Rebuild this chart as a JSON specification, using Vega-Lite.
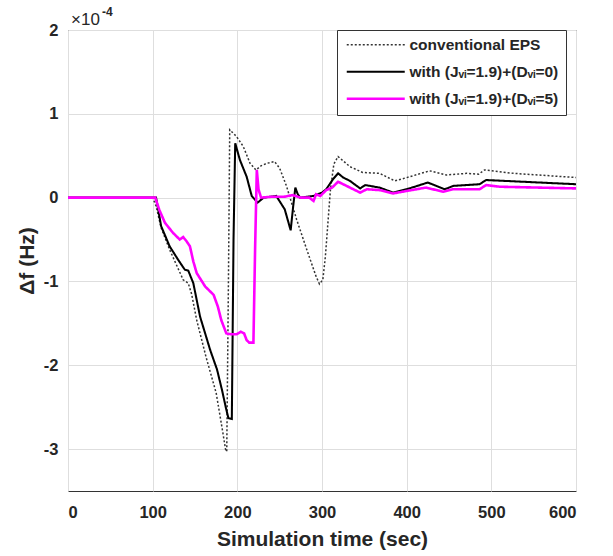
{
  "$schema": "https://vega.github.io/schema/vega-lite/v6.json",
  "width": 508,
  "height": 461,
  "autosize": {"type": "none"},
  "padding": {"left": 68, "top": 30, "right": 37, "bottom": 65},
  "background": "white",
  "config": {
    "view": {"stroke": "#333333", "strokeWidth": 1},
    "font": "Liberation Sans",
    "axis": {
      "domain": false,
      "ticks": false,
      "gridColor": "#dedede",
      "gridWidth": 1,
      "labelFont": "Liberation Sans",
      "labelFontWeight": "bold",
      "labelFontSize": 16.5,
      "labelColor": "#262626",
      "titleFont": "Liberation Sans",
      "titleFontWeight": "bold",
      "titleFontSize": 21,
      "titleColor": "#262626"
    }
  },
  "datasets": {
    "curves": [
      {"series": "conventional EPS", "t": 0, "v": 0},
      {"series": "conventional EPS", "t": 100, "v": 0},
      {"series": "conventional EPS", "t": 104, "v": -0.1},
      {"series": "conventional EPS", "t": 110, "v": -0.36},
      {"series": "conventional EPS", "t": 120, "v": -0.62},
      {"series": "conventional EPS", "t": 128, "v": -0.8},
      {"series": "conventional EPS", "t": 136, "v": -0.98},
      {"series": "conventional EPS", "t": 142, "v": -1.02},
      {"series": "conventional EPS", "t": 146, "v": -1.15},
      {"series": "conventional EPS", "t": 152, "v": -1.46},
      {"series": "conventional EPS", "t": 163, "v": -1.9},
      {"series": "conventional EPS", "t": 175, "v": -2.33},
      {"series": "conventional EPS", "t": 183, "v": -2.81},
      {"series": "conventional EPS", "t": 186, "v": -3.0},
      {"series": "conventional EPS", "t": 187.5, "v": -3.03},
      {"series": "conventional EPS", "t": 189.5, "v": -1.0},
      {"series": "conventional EPS", "t": 191, "v": 0.81},
      {"series": "conventional EPS", "t": 199, "v": 0.73},
      {"series": "conventional EPS", "t": 207, "v": 0.61},
      {"series": "conventional EPS", "t": 215, "v": 0.41},
      {"series": "conventional EPS", "t": 222, "v": 0.33},
      {"series": "conventional EPS", "t": 228, "v": 0.38},
      {"series": "conventional EPS", "t": 235, "v": 0.41},
      {"series": "conventional EPS", "t": 244, "v": 0.43},
      {"series": "conventional EPS", "t": 250, "v": 0.35},
      {"series": "conventional EPS", "t": 258, "v": 0.14},
      {"series": "conventional EPS", "t": 270, "v": -0.26},
      {"series": "conventional EPS", "t": 282, "v": -0.62},
      {"series": "conventional EPS", "t": 293, "v": -0.94},
      {"series": "conventional EPS", "t": 297, "v": -1.03},
      {"series": "conventional EPS", "t": 301, "v": -0.98},
      {"series": "conventional EPS", "t": 304, "v": -0.7},
      {"series": "conventional EPS", "t": 310, "v": 0.1},
      {"series": "conventional EPS", "t": 314, "v": 0.4},
      {"series": "conventional EPS", "t": 319, "v": 0.49},
      {"series": "conventional EPS", "t": 333, "v": 0.37},
      {"series": "conventional EPS", "t": 348, "v": 0.3},
      {"series": "conventional EPS", "t": 368, "v": 0.29},
      {"series": "conventional EPS", "t": 386, "v": 0.2},
      {"series": "conventional EPS", "t": 404, "v": 0.25},
      {"series": "conventional EPS", "t": 427, "v": 0.32},
      {"series": "conventional EPS", "t": 447, "v": 0.27},
      {"series": "conventional EPS", "t": 471, "v": 0.29},
      {"series": "conventional EPS", "t": 485, "v": 0.28},
      {"series": "conventional EPS", "t": 492, "v": 0.33},
      {"series": "conventional EPS", "t": 526, "v": 0.29},
      {"series": "conventional EPS", "t": 600, "v": 0.24},

      {"series": "with (Jᵥᵢ=1.9)+(Dᵥᵢ=0)", "t": 0, "v": 0},
      {"series": "with (Jᵥᵢ=1.9)+(Dᵥᵢ=0)", "t": 104, "v": 0},
      {"series": "with (Jᵥᵢ=1.9)+(Dᵥᵢ=0)", "t": 110, "v": -0.34},
      {"series": "with (Jᵥᵢ=1.9)+(Dᵥᵢ=0)", "t": 120, "v": -0.58},
      {"series": "with (Jᵥᵢ=1.9)+(Dᵥᵢ=0)", "t": 130, "v": -0.74},
      {"series": "with (Jᵥᵢ=1.9)+(Dᵥᵢ=0)", "t": 136, "v": -0.83},
      {"series": "with (Jᵥᵢ=1.9)+(Dᵥᵢ=0)", "t": 138, "v": -0.86},
      {"series": "with (Jᵥᵢ=1.9)+(Dᵥᵢ=0)", "t": 142, "v": -0.87},
      {"series": "with (Jᵥᵢ=1.9)+(Dᵥᵢ=0)", "t": 148, "v": -1.02},
      {"series": "with (Jᵥᵢ=1.9)+(Dᵥᵢ=0)", "t": 156, "v": -1.42},
      {"series": "with (Jᵥᵢ=1.9)+(Dᵥᵢ=0)", "t": 168, "v": -1.82},
      {"series": "with (Jᵥᵢ=1.9)+(Dᵥᵢ=0)", "t": 176, "v": -2.05},
      {"series": "with (Jᵥᵢ=1.9)+(Dᵥᵢ=0)", "t": 182, "v": -2.3},
      {"series": "with (Jᵥᵢ=1.9)+(Dᵥᵢ=0)", "t": 187, "v": -2.53},
      {"series": "with (Jᵥᵢ=1.9)+(Dᵥᵢ=0)", "t": 189.5, "v": -2.63},
      {"series": "with (Jᵥᵢ=1.9)+(Dᵥᵢ=0)", "t": 193.5, "v": -2.64},
      {"series": "with (Jᵥᵢ=1.9)+(Dᵥᵢ=0)", "t": 195.5, "v": -0.5},
      {"series": "with (Jᵥᵢ=1.9)+(Dᵥᵢ=0)", "t": 197.5, "v": 0.65},
      {"series": "with (Jᵥᵢ=1.9)+(Dᵥᵢ=0)", "t": 203, "v": 0.45},
      {"series": "with (Jᵥᵢ=1.9)+(Dᵥᵢ=0)", "t": 211, "v": 0.25},
      {"series": "with (Jᵥᵢ=1.9)+(Dᵥᵢ=0)", "t": 217, "v": 0.02},
      {"series": "with (Jᵥᵢ=1.9)+(Dᵥᵢ=0)", "t": 224, "v": -0.06},
      {"series": "with (Jᵥᵢ=1.9)+(Dᵥᵢ=0)", "t": 231, "v": 0},
      {"series": "with (Jᵥᵢ=1.9)+(Dᵥᵢ=0)", "t": 246, "v": 0.02},
      {"series": "with (Jᵥᵢ=1.9)+(Dᵥᵢ=0)", "t": 256, "v": -0.14},
      {"series": "with (Jᵥᵢ=1.9)+(Dᵥᵢ=0)", "t": 263, "v": -0.39},
      {"series": "with (Jᵥᵢ=1.9)+(Dᵥᵢ=0)", "t": 266, "v": -0.1},
      {"series": "with (Jᵥᵢ=1.9)+(Dᵥᵢ=0)", "t": 268.5, "v": 0.12},
      {"series": "with (Jᵥᵢ=1.9)+(Dᵥᵢ=0)", "t": 271, "v": 0.05},
      {"series": "with (Jᵥᵢ=1.9)+(Dᵥᵢ=0)", "t": 274, "v": 0},
      {"series": "with (Jᵥᵢ=1.9)+(Dᵥᵢ=0)", "t": 290, "v": 0.02},
      {"series": "with (Jᵥᵢ=1.9)+(Dᵥᵢ=0)", "t": 300, "v": 0.06},
      {"series": "with (Jᵥᵢ=1.9)+(Dᵥᵢ=0)", "t": 305, "v": 0.1},
      {"series": "with (Jᵥᵢ=1.9)+(Dᵥᵢ=0)", "t": 313, "v": 0.22},
      {"series": "with (Jᵥᵢ=1.9)+(Dᵥᵢ=0)", "t": 319, "v": 0.29},
      {"series": "with (Jᵥᵢ=1.9)+(Dᵥᵢ=0)", "t": 325, "v": 0.24},
      {"series": "with (Jᵥᵢ=1.9)+(Dᵥᵢ=0)", "t": 333, "v": 0.2},
      {"series": "with (Jᵥᵢ=1.9)+(Dᵥᵢ=0)", "t": 345, "v": 0.11},
      {"series": "with (Jᵥᵢ=1.9)+(Dᵥᵢ=0)", "t": 351, "v": 0.15},
      {"series": "with (Jᵥᵢ=1.9)+(Dᵥᵢ=0)", "t": 368, "v": 0.12},
      {"series": "with (Jᵥᵢ=1.9)+(Dᵥᵢ=0)", "t": 384, "v": 0.06},
      {"series": "with (Jᵥᵢ=1.9)+(Dᵥᵢ=0)", "t": 400, "v": 0.1},
      {"series": "with (Jᵥᵢ=1.9)+(Dᵥᵢ=0)", "t": 425, "v": 0.18},
      {"series": "with (Jᵥᵢ=1.9)+(Dᵥᵢ=0)", "t": 445, "v": 0.1},
      {"series": "with (Jᵥᵢ=1.9)+(Dᵥᵢ=0)", "t": 455, "v": 0.14},
      {"series": "with (Jᵥᵢ=1.9)+(Dᵥᵢ=0)", "t": 486, "v": 0.16},
      {"series": "with (Jᵥᵢ=1.9)+(Dᵥᵢ=0)", "t": 494, "v": 0.21},
      {"series": "with (Jᵥᵢ=1.9)+(Dᵥᵢ=0)", "t": 600, "v": 0.16},

      {"series": "with (Jᵥᵢ=1.9)+(Dᵥᵢ=5)", "t": 0, "v": 0},
      {"series": "with (Jᵥᵢ=1.9)+(Dᵥᵢ=5)", "t": 103, "v": 0},
      {"series": "with (Jᵥᵢ=1.9)+(Dᵥᵢ=5)", "t": 108, "v": -0.15},
      {"series": "with (Jᵥᵢ=1.9)+(Dᵥᵢ=5)", "t": 114.5, "v": -0.3},
      {"series": "with (Jᵥᵢ=1.9)+(Dᵥᵢ=5)", "t": 124, "v": -0.42},
      {"series": "with (Jᵥᵢ=1.9)+(Dᵥᵢ=5)", "t": 132, "v": -0.5},
      {"series": "with (Jᵥᵢ=1.9)+(Dᵥᵢ=5)", "t": 136, "v": -0.47},
      {"series": "with (Jᵥᵢ=1.9)+(Dᵥᵢ=5)", "t": 140, "v": -0.52},
      {"series": "with (Jᵥᵢ=1.9)+(Dᵥᵢ=5)", "t": 144, "v": -0.58},
      {"series": "with (Jᵥᵢ=1.9)+(Dᵥᵢ=5)", "t": 148, "v": -0.76},
      {"series": "with (Jᵥᵢ=1.9)+(Dᵥᵢ=5)", "t": 152, "v": -0.9},
      {"series": "with (Jᵥᵢ=1.9)+(Dᵥᵢ=5)", "t": 162, "v": -1.06},
      {"series": "with (Jᵥᵢ=1.9)+(Dᵥᵢ=5)", "t": 168, "v": -1.12},
      {"series": "with (Jᵥᵢ=1.9)+(Dᵥᵢ=5)", "t": 172, "v": -1.16},
      {"series": "with (Jᵥᵢ=1.9)+(Dᵥᵢ=5)", "t": 177, "v": -1.3},
      {"series": "with (Jᵥᵢ=1.9)+(Dᵥᵢ=5)", "t": 181, "v": -1.46},
      {"series": "with (Jᵥᵢ=1.9)+(Dᵥᵢ=5)", "t": 187, "v": -1.62},
      {"series": "with (Jᵥᵢ=1.9)+(Dᵥᵢ=5)", "t": 193, "v": -1.63},
      {"series": "with (Jᵥᵢ=1.9)+(Dᵥᵢ=5)", "t": 199, "v": -1.63},
      {"series": "with (Jᵥᵢ=1.9)+(Dᵥᵢ=5)", "t": 204, "v": -1.6},
      {"series": "with (Jᵥᵢ=1.9)+(Dᵥᵢ=5)", "t": 208, "v": -1.62},
      {"series": "with (Jᵥᵢ=1.9)+(Dᵥᵢ=5)", "t": 211, "v": -1.7},
      {"series": "with (Jᵥᵢ=1.9)+(Dᵥᵢ=5)", "t": 214, "v": -1.73},
      {"series": "with (Jᵥᵢ=1.9)+(Dᵥᵢ=5)", "t": 219, "v": -1.73},
      {"series": "with (Jᵥᵢ=1.9)+(Dᵥᵢ=5)", "t": 221, "v": -0.6},
      {"series": "with (Jᵥᵢ=1.9)+(Dᵥᵢ=5)", "t": 223, "v": 0.33},
      {"series": "with (Jᵥᵢ=1.9)+(Dᵥᵢ=5)", "t": 225, "v": 0.1},
      {"series": "with (Jᵥᵢ=1.9)+(Dᵥᵢ=5)", "t": 228, "v": 0},
      {"series": "with (Jᵥᵢ=1.9)+(Dᵥᵢ=5)", "t": 240, "v": 0.01},
      {"series": "with (Jᵥᵢ=1.9)+(Dᵥᵢ=5)", "t": 255, "v": 0.01},
      {"series": "with (Jᵥᵢ=1.9)+(Dᵥᵢ=5)", "t": 265, "v": 0.03},
      {"series": "with (Jᵥᵢ=1.9)+(Dᵥᵢ=5)", "t": 275, "v": 0},
      {"series": "with (Jᵥᵢ=1.9)+(Dᵥᵢ=5)", "t": 285, "v": 0},
      {"series": "with (Jᵥᵢ=1.9)+(Dᵥᵢ=5)", "t": 290, "v": -0.04},
      {"series": "with (Jᵥᵢ=1.9)+(Dᵥᵢ=5)", "t": 293, "v": 0.04},
      {"series": "with (Jᵥᵢ=1.9)+(Dᵥᵢ=5)", "t": 298, "v": 0.02},
      {"series": "with (Jᵥᵢ=1.9)+(Dᵥᵢ=5)", "t": 305, "v": 0.09},
      {"series": "with (Jᵥᵢ=1.9)+(Dᵥᵢ=5)", "t": 312, "v": 0.12},
      {"series": "with (Jᵥᵢ=1.9)+(Dᵥᵢ=5)", "t": 319, "v": 0.19},
      {"series": "with (Jᵥᵢ=1.9)+(Dᵥᵢ=5)", "t": 329, "v": 0.14},
      {"series": "with (Jᵥᵢ=1.9)+(Dᵥᵢ=5)", "t": 345, "v": 0.06},
      {"series": "with (Jᵥᵢ=1.9)+(Dᵥᵢ=5)", "t": 353, "v": 0.1},
      {"series": "with (Jᵥᵢ=1.9)+(Dᵥᵢ=5)", "t": 368, "v": 0.09},
      {"series": "with (Jᵥᵢ=1.9)+(Dᵥᵢ=5)", "t": 384, "v": 0.05},
      {"series": "with (Jᵥᵢ=1.9)+(Dᵥᵢ=5)", "t": 400, "v": 0.08},
      {"series": "with (Jᵥᵢ=1.9)+(Dᵥᵢ=5)", "t": 423, "v": 0.12},
      {"series": "with (Jᵥᵢ=1.9)+(Dᵥᵢ=5)", "t": 443, "v": 0.07},
      {"series": "with (Jᵥᵢ=1.9)+(Dᵥᵢ=5)", "t": 455, "v": 0.1},
      {"series": "with (Jᵥᵢ=1.9)+(Dᵥᵢ=5)", "t": 486, "v": 0.1},
      {"series": "with (Jᵥᵢ=1.9)+(Dᵥᵢ=5)", "t": 494, "v": 0.15},
      {"series": "with (Jᵥᵢ=1.9)+(Dᵥᵢ=5)", "t": 510, "v": 0.13},
      {"series": "with (Jᵥᵢ=1.9)+(Dᵥᵢ=5)", "t": 600, "v": 0.11}
    ]
  },
  "layer": [
    {
      "data": {"name": "curves"},
      "mark": {"type": "line", "clip": true},
      "encoding": {
        "x": {
          "field": "t", "type": "quantitative",
          "scale": {"domain": [0, 600], "nice": false, "zero": false},
          "axis": {"values": [0, 100, 200, 300, 400, 500, 600], "title": "Simulation time (sec)", "labelPadding": 13, "titlePadding": 8}
        },
        "y": {
          "field": "v", "type": "quantitative",
          "scale": {"domain": [-3.5, 2], "nice": false, "zero": false},
          "axis": {"values": [-3, -2, -1, 0, 1, 2], "labelExpr": "datum.value", "title": "Δf (Hz)", "labelPadding": 10, "titlePadding": 6}
        },
        "color": {
          "field": "series", "type": "nominal",
          "scale": {
            "domain": ["conventional EPS", "with (Jᵥᵢ=1.9)+(Dᵥᵢ=0)", "with (Jᵥᵢ=1.9)+(Dᵥᵢ=5)"],
            "range": ["#333333", "#000000", "#ff00ff"]
          },
          "legend": {
            "title": null,
            "orient": "none",
            "legendX": 269,
            "legendY": 0,
            "padding": 7,
            "fillColor": "white",
            "strokeColor": "#333333",
            "symbolType": "M-1,0H10.6",
            "symbolSize": 100,
            "labelFont": "Liberation Sans",
            "labelFontWeight": "bold",
            "labelFontSize": 15.5,
            "labelColor": "#262626",
            "labelLimit": 300,
            "rowPadding": 10,
            "labelOffset": 50
          }
        },
        "strokeDash": {
          "field": "series", "type": "nominal",
          "scale": {
            "domain": ["conventional EPS", "with (Jᵥᵢ=1.9)+(Dᵥᵢ=0)", "with (Jᵥᵢ=1.9)+(Dᵥᵢ=5)"],
            "range": [[2, 2], [1, 0], [1, 0]]
          }
        },
        "strokeWidth": {
          "field": "series", "type": "nominal",
          "scale": {
            "domain": ["conventional EPS", "with (Jᵥᵢ=1.9)+(Dᵥᵢ=0)", "with (Jᵥᵢ=1.9)+(Dᵥᵢ=5)"],
            "range": [1.5, 2.6, 2.6]
          }
        }
      }
    },
    {
      "data": {"values": [{"label": "×10"}]},
      "mark": {"type": "text", "align": "left", "baseline": "alphabetic", "dx": 3, "dy": -5, "fontSize": 17, "font": "Liberation Sans", "color": "#262626"},
      "encoding": {
        "x": {"datum": 0, "type": "quantitative"},
        "y": {"datum": 2, "type": "quantitative"},
        "text": {"field": "label"}
      }
    },
    {
      "data": {"values": [{"label": "-4"}]},
      "mark": {"type": "text", "align": "left", "baseline": "alphabetic", "dx": 34, "dy": -14, "fontSize": 12, "fontWeight": "bold", "font": "Liberation Sans", "color": "#262626"},
      "encoding": {
        "x": {"datum": 0, "type": "quantitative"},
        "y": {"datum": 2, "type": "quantitative"},
        "text": {"field": "label"}
      }
    }
  ]
}
